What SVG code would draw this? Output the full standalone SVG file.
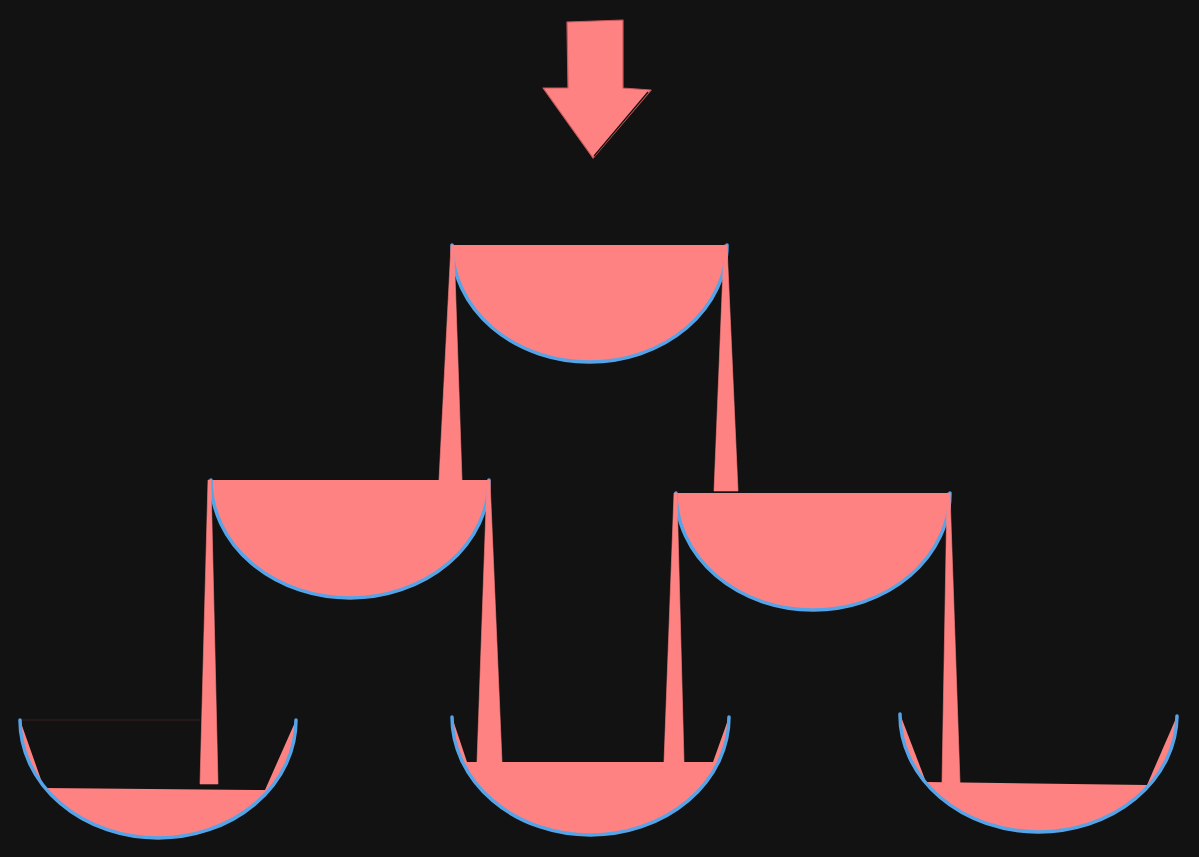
<svg xmlns="http://www.w3.org/2000/svg" width="1199" height="857" viewBox="0 0 1199 857">
  <defs>
    <style>
      .fill { fill: #ff8282; stroke: none; }
      .rim { fill: none; stroke: #56a4e8; stroke-width: 3.5; stroke-linecap: round; }
      .empty { fill: #121212; stroke: none; }
      .pipe { fill: #ff8282; stroke: #ff8282; stroke-width: 0.6; stroke-linejoin: round; }
      .arrow { fill: #ff8282; stroke: #c8585c; stroke-width: 1.2; stroke-linejoin: round; }
    </style>
  </defs>
  <rect width="1199" height="857" fill="#121212"/>

  <g id="inflow-arrow">
    <polygon class="arrow" points="567,22 623,20 623,88 651,90 593,158 543,88 568,88"/>
    <line x1="648" y1="92" x2="594" y2="156" stroke="#121212" stroke-width="1.2"/>
  </g>

  <g id="bowl-top">
    <path class="fill" d="M452,245 A137.5,117 0 0 0 727,245 Z"/>
    <path class="rim" d="M452,245 A137.5,117 0 0 0 727,245"/>
  </g>

  <g id="bowl-mid-left">
    <path class="fill" d="M211,480 A139,118 0 0 0 489,480 Z"/>
    <path class="rim" d="M211,480 A139,118 0 0 0 489,480"/>
  </g>

  <g id="bowl-mid-right">
    <path class="fill" d="M676,493 A137,117 0 0 0 950,493 Z"/>
    <path class="rim" d="M676,493 A137,117 0 0 0 950,493"/>
  </g>

  <g id="bowl-bottom-left">
    <path class="fill" d="M20,720 A138,118 0 0 0 296,720 Z"/>
    <polygon class="empty" points="19,718 20,720 44,788 265,790 296,720 297,718"/>
    <line x1="20" y1="720" x2="200" y2="720" stroke="#3a2020" stroke-width="1"/>
    <path class="rim" d="M20,720 A138,118 0 0 0 296,720"/>
  </g>

  <g id="bowl-bottom-middle">
    <path class="fill" d="M452,717 A138.5,118 0 0 0 729,717 Z"/>
    <polygon class="empty" points="451,714 452,717 467,762 713,762 729,717 730,714"/>
    <path class="rim" d="M452,717 A138.5,118 0 0 0 729,717"/>
  </g>

  <g id="bowl-bottom-right">
    <path class="fill" d="M900,714 A138.5,117 0 0 0 1177,716 Z"/>
    <polygon class="empty" points="899,711 900,714 926,782 1147,785 1177,716 1178,711"/>
    <path class="rim" d="M900,714 A138.5,117 0 0 0 1177,716"/>
  </g>

  <g id="connectors">
    <polygon class="pipe" points="451,245 454,245 462,480 439,480"/>
    <polygon class="pipe" points="724,245 727,245 738,491 714,491"/>
    <polygon class="pipe" points="208,480 211,480 218,784 200,784"/>
    <polygon class="pipe" points="487,480 490,480 502,762 477,762"/>
    <polygon class="pipe" points="674,493 677,493 684,762 664,762"/>
    <polygon class="pipe" points="947,493 950,493 960,783 942,783"/>
  </g>
</svg>
